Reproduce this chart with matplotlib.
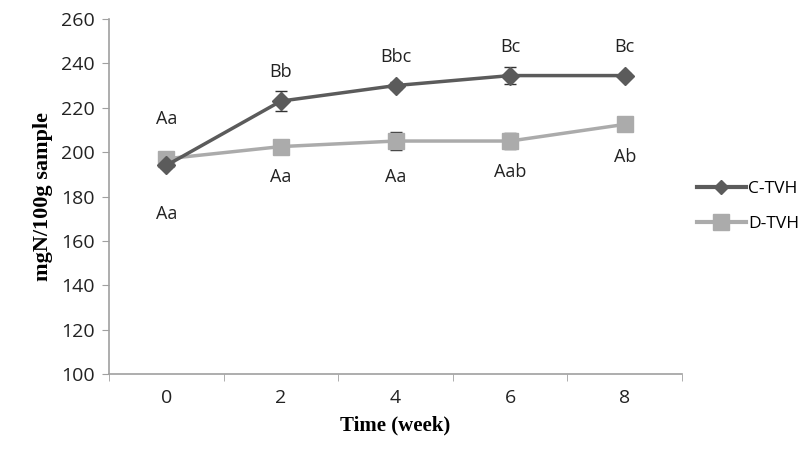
import matplotlib
matplotlib.use("Agg")
import matplotlib.pyplot as plt
from matplotlib.lines import Line2D
import numpy as np

weeks = ["0", "2", "4", "6", "8"]
c_tvh = [194, 223, 230, 234.5, 234.5]
c_err = [1.0, 4.5, 1.5, 4.0, 1.0]
d_tvh = [197, 202.5, 205, 205, 212.5]
d_err = [1.0, 1.0, 4.0, 3.5, 1.0]
c_labels = ["Aa", "Bb", "Bbc", "Bc", "Bc"]
d_labels = ["Aa", "Aa", "Aa", "Aab", "Ab"]
c_label_y = [215, 236, 243, 247.5, 247.5]
d_label_y = [172, 189, 189, 191, 198]
yticks = [100, 120, 140, 160, 180, 200, 220, 240, 260]

fig = plt.figure(figsize=(8.11, 4.49), dpi=100)
ax = fig.add_axes([0.1344, 0.167, 0.7066, 0.7907])
x = np.arange(len(weeks))

c_col = "#5b5b5b"
d_col = "#ababab"
ax.errorbar(x, d_tvh, yerr=d_err, color=d_col, lw=2.5, marker="s", ms=11,
            ecolor="#333333", elinewidth=1, capsize=4, zorder=2)
ax.errorbar(x, c_tvh, yerr=c_err, color=c_col, lw=2.5, marker="D", ms=9,
            ecolor="#333333", elinewidth=1, capsize=4, zorder=3)

tfont = dict(family="Open Sans", size=13, color="#222222")
for i in range(len(weeks)):
    ax.text(x[i], c_label_y[i], c_labels[i], ha="center", va="center", **tfont)
    ax.text(x[i], d_label_y[i], d_labels[i], ha="center", va="center", **tfont)

ax.set_xlim(-0.5, len(weeks) - 0.5)
ax.set_ylim(100, 260)
ax.set_yticks(yticks)
ax.set_xticks(x)
ax.set_xticklabels(weeks)
ax.set_xticks(np.arange(-0.5, len(weeks)), minor=True)
ax.tick_params(axis="x", which="major", length=0, pad=11)
ax.tick_params(axis="x", which="minor", length=5, color="#a0a0a0", direction="out")
ax.tick_params(axis="y", length=5, color="#a0a0a0", direction="out", pad=5)
for lab in ax.get_xticklabels() + ax.get_yticklabels():
    lab.set_fontfamily("Open Sans")
    lab.set_fontsize(14)
    lab.set_color("#222222")

for s in ["top", "right"]:
    ax.spines[s].set_visible(False)
for s in ["left", "bottom"]:
    ax.spines[s].set_color("#a0a0a0")
    ax.spines[s].set_linewidth(1.2)

ax.set_xlabel("Time (week)", family="Liberation Serif", fontweight="bold", fontsize=15, labelpad=6)
ax.set_ylabel("mgN/100g sample", family="Liberation Serif", fontweight="bold", fontsize=16, labelpad=6)

handles = [
    Line2D([], [], color=c_col, lw=3, marker="D", ms=7),
    Line2D([], [], color=d_col, lw=3, marker="s", ms=11),
]
leg = fig.legend(handles, ["C-TVH", "D-TVH"], loc="upper left",
                 bbox_to_anchor=(697 / 811, 1 - 181 / 449), bbox_transform=fig.transFigure,
                 frameon=False, prop=dict(family="Open Sans", size=12.5),
                 borderpad=0, borderaxespad=0,
                 handlelength=2.8, labelspacing=1.1, handletextpad=0.15)

fig.savefig("out.png", dpi=100)
